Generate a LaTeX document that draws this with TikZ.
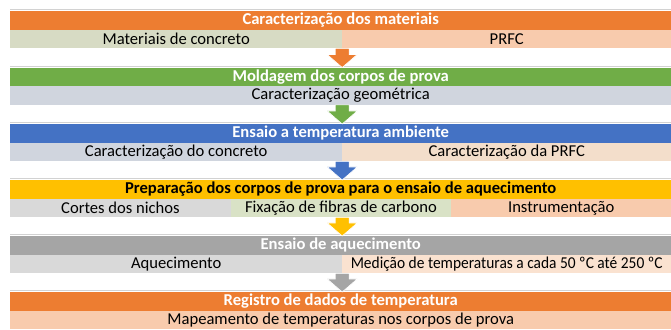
\documentclass[tikz,border=0pt]{standalone}
\usepackage{fontspec}
\setmainfont{Carlito}
\usetikzlibrary{calc}
\definecolor{cOrange}{HTML}{ED7D31}
\definecolor{cOrangeL}{HTML}{F8CBAD}
\definecolor{cGreen}{HTML}{70AD47}
\definecolor{cBlue}{HTML}{4472C4}
\definecolor{cYellow}{HTML}{FFC000}
\definecolor{cGrey}{HTML}{A5A5A5}
\definecolor{cOlive}{HTML}{D7DBC4}
\definecolor{cBlueGrey}{HTML}{D0D5DE}
\definecolor{cPeach}{HTML}{F3DECB}
\definecolor{cLGrey}{HTML}{D9D9D9}
\definecolor{cLGreen}{HTML}{D9E2C6}
\definecolor{cPeachL}{HTML}{FAE2D0}
\definecolor{cLine}{HTML}{D2D2D2}
\tikzset{
  hdr/.style={anchor=north west, inner sep=0pt, minimum width=661pt, minimum height=18.5pt,
    fill=#1, text=white, font=\fontsize{16.6}{17}\selectfont\bfseries},
  hdrdark/.style={hdr=#1, text=black},
  cell/.style={anchor=north west, inner sep=0pt, minimum height=18.5pt,
    fill=#1, text=black, font=\fontsize{16.6}{17}\selectfont},
  sepline/.style={draw=cLine, line width=1pt},
}
\newcommand\blockarrow[3]{%
  \path[fill=#1, draw=white, line width=0.6pt] let \p1=(#2), \p2=(#3) in
    ({\x2-7pt},\y1) -- ({\x2+7pt},\y1) -- ({\x2+7pt},{\y2+13pt}) -- ({\x2+15pt},{\y2+13pt})
    -- (\x2,\y2) -- ({\x2-15pt},{\y2+13pt}) -- ({\x2-7pt},{\y2+13pt}) -- cycle;}
\begin{document}
\begin{tikzpicture}[x=1pt,y=1pt]
\useasboundingbox (0,0) rectangle (671,329);
\fill[white] (0,0) rectangle (671,329);
% separator lines above bars
\foreach \t in {11,67.5,124,180,236,292}
  \draw[sepline] (10,{329-\t+1.2}) -- (671,{329-\t+1.2});
% block 1
\node[hdr=cOrange] (h1) at (10,318) {Caracterização dos materiais};
\node[cell=cOlive, minimum width=332pt] (r1a) at (10,299.5) {Materiais de concreto};
\node[cell=cOrangeL, minimum width=329pt] (r1b) at (342,299.5) {PRFC};
% block 2
\node[hdr=cGreen] (h2) at (10,261.5) {Moldagem dos corpos de prova};
\node[cell=cBlueGrey, minimum width=661pt] (r2) at (10,243) {Caracterização geométrica};
% block 3
\node[hdr=cBlue] (h3) at (10,205) {Ensaio a temperatura ambiente};
\node[cell=cBlueGrey, minimum width=332pt] (r3a) at (10,186.5) {Caracterização do concreto};
\node[cell=cPeach, minimum width=329pt] (r3b) at (342,186.5) {Caracterização da PRFC};
% block 4
\node[hdrdark=cYellow] (h4) at (10,149) {Preparação dos corpos de prova para o ensaio de aquecimento};
\node[cell=cLGrey, minimum width=220.5pt] (r4a) at (10,130.5) {Cortes dos nichos};
\node[cell=cLGreen, minimum width=220.5pt] (r4b) at (230.5,130.5) {Fixação de fibras de carbono};
\node[cell=cOrangeL, minimum width=220pt] (r4c) at (451,130.5) {Instrumentação};
% block 5
\node[hdr=cGrey] (h5) at (10,93) {Ensaio de aquecimento};
\node[cell=cLGrey, minimum width=332pt] (r5a) at (10,74.5) {Aquecimento};
\node[cell=cPeachL, minimum width=329pt] (r5b) at (342,74.5) {\scalebox{0.93}[1]{Medição de temperaturas a cada 50 ºC até 250 ºC}};
% block 6
\node[hdr=cOrange] (h6) at (10,37) {Registro de dados de temperatura};
\node[cell=cOrangeL, minimum width=661pt] (r6) at (10,18.5) {Mapeamento de temperaturas nos corpos de prova};
% arrows
\coordinate (t2) at ([xshift=1.5pt]h2.north);
\coordinate (t3) at ([xshift=1.5pt]h3.north);
\coordinate (t4) at ([xshift=1.5pt]h4.north);
\coordinate (t5) at ([xshift=1.5pt]h5.north);
\coordinate (t6) at ([xshift=1.5pt]h6.north);
\blockarrow{cOrange}{r1a.south}{t2}
\blockarrow{cGreen}{r2.south}{t3}
\blockarrow{cBlue}{r3a.south}{t4}
\blockarrow{cYellow}{r4a.south}{t5}
\blockarrow{cGrey}{r5a.south}{t6}
\end{tikzpicture}
\end{document}
